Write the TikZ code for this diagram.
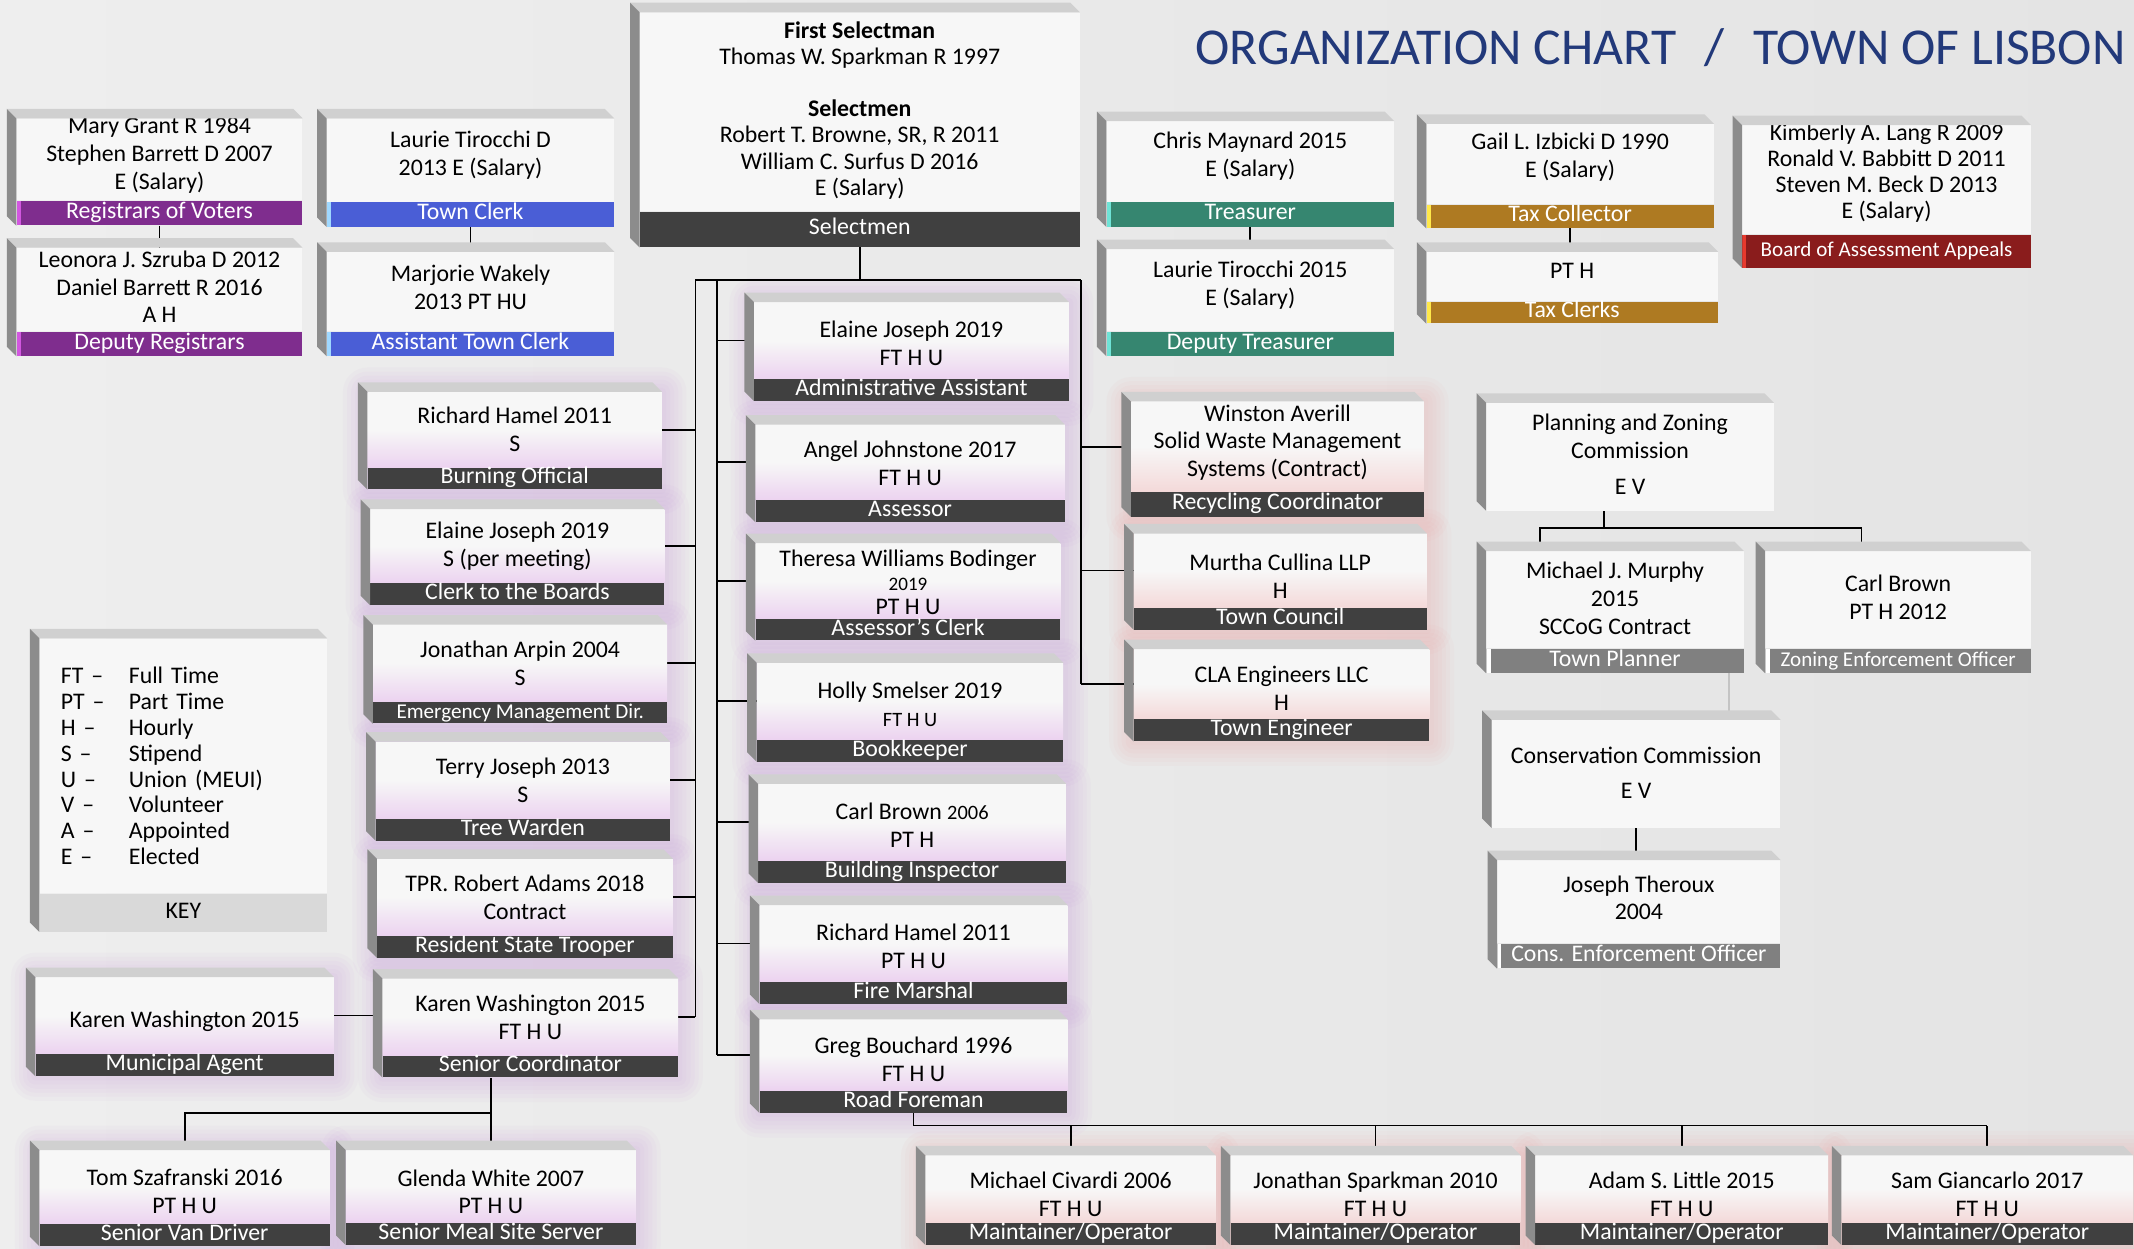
\documentclass[tikz,border=0pt]{standalone}
\usepackage{fontspec}
\setmainfont{Carlito}
\usepackage{tikz}
\usetikzlibrary{calc, positioning}
\pgfdeclarelayer{back}
\pgfdeclarelayer{bg}
\pgfdeclarelayer{lines}
\pgfsetlayers{back,bg,lines,main}

\definecolor{paper}{HTML}{E4E4E4}
\definecolor{paperlight}{HTML}{EEEEEE}
\definecolor{cardwhite}{HTML}{F7F7F7}
\definecolor{bevlight}{HTML}{D0D0D0}
\definecolor{bevdark}{HTML}{8C8C8C}
\definecolor{lavbot}{HTML}{ECD3F0}
\definecolor{pinkbot}{HTML}{F4D9D9}
\definecolor{lavglow}{HTML}{C99BD9}
\definecolor{pinkglow}{HTML}{E8A4A4}
\definecolor{regpurple}{HTML}{7F2D8E}
\definecolor{regedge}{HTML}{D257E0}
\definecolor{clerkblue}{HTML}{4A5ED6}
\definecolor{clerkedge}{HTML}{9FD8FF}
\definecolor{darkgrey}{HTML}{404040}
\definecolor{treasteal}{HTML}{368670}
\definecolor{treasedge}{HTML}{6FE3D6}
\definecolor{taxochre}{HTML}{AE7A22}
\definecolor{taxedge}{HTML}{FFE84A}
\definecolor{baared}{HTML}{8A1C1C}
\definecolor{baaedge}{HTML}{E83A2E}
\definecolor{plangrey}{HTML}{808080}
\definecolor{keygrey}{HTML}{D9D9D9}
\definecolor{titleblue}{HTML}{22397A}
\definecolor{faintgrey}{HTML}{C4C4C4}

\newcommand{\cardfont}{\fontsize{17.5}{20.5}\selectfont}
\newcommand{\smallbarfont}{\fontsize{15.5}{18}\selectfont}

\tikzset{
  cardbody/.style={anchor=north west, fill=cardwhite, inner sep=0pt},
  cardshade/.style={},
  lav/.style={top color=cardwhite, bottom color=lavbot, middle color=cardwhite},
  pnk/.style={top color=cardwhite, bottom color=pinkbot, middle color=cardwhite},
  cardtext/.style={align=center, inner sep=0pt, font=\cardfont},
  cardbar/.style={anchor=north, text=white, inner xsep=1pt, inner ysep=1pt, text height=11pt, text depth=3pt, minimum height=16pt, font=\cardfont, fill=darkgrey},
  baredge/.style={path picture={\fill[#1] (path picture bounding box.south west) rectangle ([xshift=3pt]path picture bounding box.north west);}},
  purplebar/.style={fill=regpurple, minimum height=18pt, baredge=regedge},
  bluebar/.style={fill=clerkblue, minimum height=18pt, baredge=clerkedge},
  tealbar/.style={fill=treasteal, minimum height=18pt, baredge=treasedge},
  ochrebar/.style={fill=taxochre, minimum height=17pt, baredge=taxedge},
  redbar/.style={fill=baared, minimum height=24pt, font=\smallbarfont, baredge=baaedge},
  greybar/.style={fill=plangrey, minimum height=18pt, baredge=white},
  keybar/.style={fill=keygrey, text=black, minimum height=28pt},
  wire/.style={draw=black, line width=1.3pt},
  faintwire/.style={draw=faintgrey, line width=0.8pt},
  titletext/.style={anchor=east, text=titleblue, inner sep=0pt, font=\fontsize{38}{44}\selectfont}
}

\newcommand{\bevel}[2]{%
  \fill[bevlight] (#1.north west) -- (#1.north east) -- ++(-7,-7) -- ($(#1.north west)+(-7,-7)$) -- cycle;
  \fill[bevdark] (#1.north west) -- ++(-7,-7) -- ($(#2.south west)+(-7,-7)$) -- (#2.south west) -- cycle;
}
\newcommand{\orgcard}[9][0]{%
  \node[cardbody, cardshade, minimum width=#4pt, minimum height=#5pt] (#2) at (#3) {};
  \node[cardtext, #6] (#2-text) at ([yshift=#1pt]#2.center) {#8};
  \node[cardbar, minimum width=#4pt, #7] (#2-bar) at (#2.south) {#9};
  \bevel{#2}{#2-bar}
}
\newcommand{\orgpanel}[6][0]{%
  \node[cardbody, minimum width=#4pt, minimum height=#5pt] (#2) at (#3) {};
  \node[cardtext] (#2-text) at ([yshift=#1pt]#2.center) {#6};
  \bevel{#2}{#2}
}
\newcommand{\flatcard}{\tikzset{cardshade/.style={}}\orgcard}
\newcommand{\lavcard}{\tikzset{cardshade/.style={lav}}\orgcard}
\newcommand{\pnkcard}{\tikzset{cardshade/.style={pnk}}\orgcard}

\begin{document}
\begin{tikzpicture}[x=1pt, y=-1pt]
	\useasboundingbox (0,0) rectangle (1568,917);
	\begin{pgfonlayer}{back}
		\fill[left color=paperlight, right color=paper] (0,0) rectangle (1568,917);
	\end{pgfonlayer}
	
	\node[titletext] (title) at (1562,35) {ORGANIZATION CHART\hspace{0.55em}/\hspace{0.55em}TOWN OF LISBON};
	
	\flatcard[3]{reg}{12,87}{210}{60}{}{purplebar}{Mary Grant R 1984\\Stephen Barrett D 2007\\E (Salary)}{Registrars of Voters}
	\flatcard[4]{clerk}{240,87}{211}{61}{}{bluebar}{Laurie Tirocchi D\\2013 E (Salary)}{Town Clerk}
	\flatcard[1]{sel}{470,9}{323}{146}{font=\fontsize{17.5}{19.5}\selectfont}{minimum height=26pt}{\textbf{First Selectman}\\Thomas W. Sparkman R 1997\\[18.5pt]\textbf{Selectmen}\\Robert T. Browne, SR, R 2011\\William C. Surfus D 2016\\E (Salary)}{Selectmen}
	\flatcard[4]{treas}{813,89}{211}{59}{}{tealbar}{Chris Maynard 2015\\E (Salary)}{Treasurer}
	\flatcard[5]{taxcol}{1048,91}{211}{59}{}{ochrebar}{Gail L. Izbicki D 1990\\E (Salary)}{Tax Collector}
	\flatcard[5]{baa}{1280,92}{212}{80}{font=\fontsize{17.5}{19}\selectfont}{redbar}{Kimberly A. Lang R 2009\\Ronald V. Babbitt D 2011\\Steven M. Beck D 2013\\E (Salary)}{Board of Assessment Appeals}
	
	\flatcard[2]{depreg}{12,182}{210}{61}{}{purplebar}{Leonora J. Szruba D 2012\\Daniel Barrett R 2016\\A H}{Deputy Registrars}
	\flatcard[3]{asstclerk}{240,185}{211}{58}{}{bluebar}{Marjorie Wakely\\2013 PT HU}{Assistant Town Clerk}
	\flatcard[4]{deptreas}{813,183}{211}{60}{}{tealbar}{Laurie Tirocchi 2015\\E (Salary)}{Deputy Treasurer}
	\flatcard[4]{taxclerks}{1048,185}{214}{36}{}{ochrebar, minimum height=16pt}{PT H}{Tax Clerks}
	
	\lavcard{burn}{270,288}{216}{55}{}{}{Richard Hamel 2011\\S}{Burning Official}
	\lavcard{clerkb}{272,374}{216}{54}{}{}{Elaine Joseph 2019\\S (per meeting)}{Clerk to the Boards}
	\lavcard{emerg}{274,459}{216}{56}{}{font=\smallbarfont}{Jonathan Arpin 2004\\S}{Emergency Management Dir.}
	\lavcard{tree}{276,545}{216}{56}{}{}{Terry Joseph 2013\\S}{Tree Warden}
	\lavcard{trooper}{277,631}{217}{56}{}{}{TPR. Robert Adams 2018\\Contract}{Resident State Trooper}
	\lavcard{senior}{281,719}{217}{56}{}{}{Karen Washington 2015\\FT H U}{Senior Coordinator}
	
	\lavcard[-2]{admin}{554,222}{231}{56}{}{}{Elaine Joseph 2019\\FT H U}{Administrative Assistant}
	\lavcard[-1]{assessor}{555,312}{227}{55}{}{}{Angel Johnstone 2017\\FT H U}{Assessor}
	\lavcard[-1]{aclerk}{555,399}{224}{55}{font=\fontsize{17.5}{17.5}\selectfont}{}{Theresa Williams Bodinger\\{\fontsize{14}{16}\selectfont 2019}\\PT H U}{Assessor’s Clerk}
	\lavcard[-2]{book}{556,487}{225}{56}{}{}{Holly Smelser 2019\\{\fontsize{15}{18}\selectfont FT H U}}{Bookkeeper}
	\lavcard[-2]{build}{557,576}{226}{56}{}{}{Carl Brown {\fontsize{15}{18}\selectfont 2006}\\PT H}{Building Inspector}
	\lavcard[-2]{fire}{558,665}{226}{56}{}{}{Richard Hamel 2011\\PT H U}{Fire Marshal}
	\lavcard[-3]{road}{558,749}{226}{52}{}{}{Greg Bouchard 1996\\FT H U}{Road Foreman}
	
	\pnkcard[3]{recyc}{831,295}{215}{66}{}{minimum height=18pt}{Winston Averill\\Solid Waste Management\\Systems (Contract)}{Recycling Coordinator}
	\pnkcard[-4]{council}{833,392}{215}{54}{}{}{Murtha Cullina LLP\\H}{Town Council}
	\pnkcard[-3]{engineer}{833,477}{217}{51}{}{}{CLA Engineers LLC\\H}{Town Engineer}
	
	\orgpanel[2]{pz}{1092,296}{211}{79}{Planning and Zoning\\Commission\\[6pt]E V}
	\flatcard[1]{planner}{1092,405}{189}{71}{}{greybar}{Michael J. Murphy\\2015\\SCCoG Contract}{Town Planner}
	\flatcard[2]{zeo}{1297,405}{195}{71}{}{greybar, font=\smallbarfont}{Carl Brown\\PT H 2012}{Zoning Enforcement Officer}
	\orgpanel[1]{cons}{1096,529}{212}{79}{Conservation Commission\\[5pt]E V}
	\flatcard[3]{ceo}{1100,632}{208}{61}{}{greybar}{Joseph Theroux\\2004}{Cons. Enforcement Officer}
	
	\flatcard{key}{29,469}{211}{187}{text width=180pt, align=left, font=\fontsize{17.5}{19.1}\selectfont}{keybar}{\makebox[50pt][l]{FT –}Full Time\\\makebox[50pt][l]{PT –}Part Time\\\makebox[50pt][l]{H –}Hourly\\\makebox[50pt][l]{S –}Stipend\\\makebox[50pt][l]{U –}Union (MEUI)\\\makebox[50pt][l]{V –}Volunteer\\\makebox[50pt][l]{A –}Appointed\\\makebox[50pt][l]{E –}Elected}{KEY}
	
	\lavcard[-4]{muni}{26,718}{219}{56}{}{}{Karen Washington 2015}{Municipal Agent}
	\lavcard[-3]{van}{29,845}{213}{54}{}{}{Tom Szafranski 2016\\PT H U}{Senior Van Driver}
	\lavcard[-4]{meal}{254,845}{213}{53}{}{}{Glenda White 2007\\PT H U}{Senior Meal Site Server}
	
	\pnkcard[-4]{m1}{680,849}{213}{49}{}{}{Michael Civardi 2006\\FT H U}{Maintainer/Operator}
	\pnkcard[-4]{m2}{904,849}{213}{49}{}{}{Jonathan Sparkman 2010\\FT H U}{Maintainer/Operator}
	\pnkcard[-4]{m3}{1128,849}{215}{49}{}{}{Adam S. Little 2015\\FT H U}{Maintainer/Operator}
	\pnkcard[-4]{m4}{1353,849}{214}{49}{}{}{Sam Giancarlo 2017\\FT H U}{Maintainer/Operator}
	
	\begin{pgfonlayer}{bg}
		\foreach \n in {burn,clerkb,emerg,tree,trooper,senior,admin,assessor,aclerk,book,build,fire,road,muni,van,meal}
			\foreach \g in {3,6,...,18}
				\fill[lavglow, opacity=0.06, rounded corners=\g pt] ($(\n.north west)+(-\g,-\g)$) rectangle ($(\n-bar.south east)+(\g,\g)$);
		\foreach \n in {recyc,council,engineer,m1,m2,m3,m4}
			\foreach \g in {3,6,...,18}
				\fill[pinkglow, opacity=0.06, rounded corners=\g pt] ($(\n.north west)+(-\g,-\g)$) rectangle ($(\n-bar.south east)+(\g,\g)$);
	\end{pgfonlayer}
	
	\begin{pgfonlayer}{lines}
		\draw[wire] (reg-bar.south) -- (reg-bar.south |- depreg.north);
		\draw[wire] (clerk-bar.south) -- (clerk-bar.south |- asstclerk.north);
		\draw[wire] (treas-bar.south) -- (treas-bar.south |- deptreas.north);
		\draw[wire] (taxcol-bar.south) -- (taxcol-bar.south |- taxclerks.north);
		
		\coordinate (lt) at (511,206);
		\coordinate (it) at (527,206);
		\coordinate (rt) at (794,206);
		\draw[wire] (sel-bar.south) -- (sel-bar.south |- lt);
		\draw[wire] (lt) -- (rt);
		\draw[wire] (lt) -- (lt |- senior.east);
		\draw[wire] (it) -- (it |- road.west);
		\draw[wire] (rt) -- (rt |- engineer.west);
		\foreach \n in {burn,clerkb,emerg,tree,trooper,senior}
			\draw[wire] (\n.east) -- (\n.east -| lt);
		\foreach \n in {admin,assessor,aclerk,book,build,fire,road}
			\draw[wire] (\n.west) -- (\n.west -| it);
		\foreach \n in {recyc,council,engineer}
			\draw[wire] (\n.west) -- (\n.west -| rt);
		
		\draw[wire] (muni.east) -- (muni.east -| senior.west);
		\coordinate (sj) at (0,818);
		\draw[wire] (meal.north) -- (meal.north |- senior-bar.south);
		\draw[wire] (van.north) |- (meal.north |- sj);
		
		\coordinate (rj) at (0,827);
		\draw[wire] (road-bar.south) |- (m4.north |- rj);
		\foreach \n in {m1,m2,m3,m4}
			\draw[wire] (\n.north) -- (\n.north |- rj);
		
		\coordinate (pj) at (0,388);
		\coordinate (pzout) at ([xshift=-19pt]pz.south);
		\coordinate (plin) at ([xshift=-55pt]planner.north);
		\coordinate (zeoin) at ([xshift=-27pt]zeo.north);
		\draw[wire] (pzout) -- (pzout |- pj);
		\draw[wire] (plin) |- (zeoin |- pj) -- (zeoin);
		\draw[wire] (cons.south) -- (cons.south |- ceo.north);
		\coordinate (faint) at ([xshift=-11pt]planner-bar.south east);
		\draw[faintwire] (faint) -- (faint |- cons.north);
	\end{pgfonlayer}
\end{tikzpicture}
\end{document}
